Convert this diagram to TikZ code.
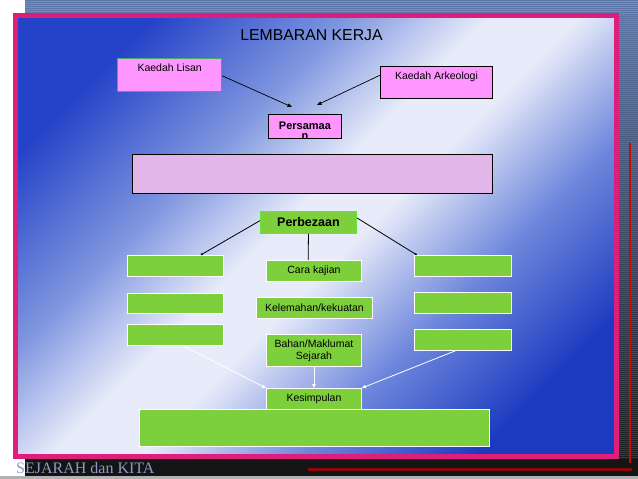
\documentclass[tikz,border=0pt]{standalone}
\usepackage{fontspec}
\setmainfont{Liberation Sans}
\newfontfamily\footserif{Liberation Serif}
\usetikzlibrary{arrows.meta,calc}
\definecolor{pinkframe}{RGB}{222,30,122}
\definecolor{boxpink}{RGB}{255,150,255}
\definecolor{lilac}{RGB}{226,182,232}
\definecolor{boxgreen}{RGB}{125,208,60}
\definecolor{perbedge}{RGB}{100,228,60}
\definecolor{lisanedge}{RGB}{70,170,110}
\definecolor{gradblue}{RGB}{36,66,200}
\definecolor{gradmid}{RGB}{125,148,222}
\definecolor{gradlight}{RGB}{232,236,250}
\definecolor{gradmidB}{RGB}{110,135,220}
\definecolor{gradblueB}{RGB}{28,58,192}
\definecolor{slate}{RGB}{92,118,168}
\definecolor{footgray}{RGB}{140,155,195}
\definecolor{darkred}{RGB}{140,8,8}
\definecolor{brightred}{RGB}{200,10,10}
\pgfdeclareverticalshading{panelshade}{100bp}{color(0bp)=(gradblueB); color(24bp)=(gradblueB); color(36bp)=(gradmidB); color(47bp)=(gradlight); color(53bp)=(gradlight); color(63bp)=(gradmid); color(76bp)=(gradblue); color(100bp)=(gradblue)}
\begin{document}
\begin{tikzpicture}[x=1pt,y=-1pt,
  normtext/.style={font=\fontsize{10.5}{12}\selectfont},
  pinkbox/.style={draw=black, fill=boxpink, line width=0.9pt, anchor=north west, inner sep=0pt},
  lilacbox/.style={draw=black, fill=lilac, line width=0.9pt, anchor=north west, inner sep=0pt},
  greenbox/.style={draw=white, fill=boxgreen, line width=0.9pt, anchor=north west, inner sep=0pt, normtext, align=center},
  blackarrow/.style={draw=black, line width=0.7pt, -{Triangle[length=4.5pt,width=3.5pt]}},
  blackline/.style={draw=black, line width=0.8pt, -{Triangle[length=2pt,width=2.5pt]}},
  whitearrow/.style={draw=white, line width=0.8pt, -{Triangle[length=4pt,width=3.5pt]}}
]
\useasboundingbox (0,0) rectangle (638,479);
% background pieces
\fill[white] (0,0) rectangle (638,479);
\fill[slate] (25,0) rectangle (638,14);
\shade[top color=slate, bottom color=black!90] (619,0) rectangle (638,476);
\foreach \yy in {1.5,3.5,...,13.5} \draw[white, opacity=0.18, line width=0.6pt] (25,\yy) -- (638,\yy);
\foreach \yy in {15.5,17.5,...,475.5} \draw[white, opacity=0.12, line width=0.5pt] (619,\yy) -- (638,\yy);
\fill[black!92] (25,459) rectangle (638,476);
\fill[black!30] (0,476) rectangle (638,479);
\draw[brightred, line width=2pt] (630,143) -- (630,463);
\draw[darkred, line width=3pt] (308,469) -- (632,469);
% main panel
\shade[shading=panelshade, shading angle=45] (15,15) rectangle (617,457);
\draw[pinkframe, line width=5pt] (15.5,15.5) rectangle (616.5,456.5);
\node[anchor=base west, inner sep=0pt, font=\footserif\fontsize{16}{16}\selectfont, text=footgray] (footer) at (16,473) {SEJARAH dan KITA};
% title
\node[font=\fontsize{15.8}{18}\selectfont, inner sep=0pt] (title) at (311.5,35) {LEMBARAN KERJA};
% top boxes
\node[pinkbox, draw=lisanedge, line width=1.3pt, minimum width=104pt, minimum height=33pt,
  label={[anchor=north, normtext, inner sep=0pt, yshift=-6pt]north:Kaedah Lisan}] (lisan) at (117,58) {};
\node[pinkbox, minimum width=112pt, minimum height=32pt,
  label={[anchor=north, normtext, inner sep=0pt, yshift=-6pt]north:Kaedah Arkeologi}] (arke) at (380,66) {};
\node[pinkbox, minimum width=73pt, minimum height=24pt,
  label={[anchor=north, inner sep=0pt, yshift=-8pt, align=center, font=\bfseries\fontsize{11}{10}\selectfont]north:Persamaa\\n}] (persa) at (268,114) {};
\node[lilacbox, minimum width=360pt, minimum height=39pt] (simbox) at (132,154) {};
% arrows to Persamaan
\coordinate (tipA) at (292,107);
\coordinate (tipB) at (317,105);
\draw[blackarrow] ($(lisan.north east)!0.52!(lisan.south east)$) -- (tipA);
\draw[blackarrow] ($(arke.north west)!0.28!(arke.south west)$) -- (tipB);
% Perbezaan
\node[greenbox, draw=perbedge, minimum width=96pt, minimum height=22pt,
  font=\bfseries\fontsize{12.5}{14}\selectfont] (perb) at (260,211) {Perbezaan};
% left boxes
\node[greenbox, minimum width=96pt, minimum height=21pt] (L1) at (127,255) {};
\node[greenbox, minimum width=96pt, minimum height=20pt] (L2) at (127,293) {};
\node[greenbox, minimum width=96pt, minimum height=21pt] (L3) at (127,324) {};
% right boxes
\node[greenbox, minimum width=97pt, minimum height=21pt] (R1) at (414,255) {};
\node[greenbox, minimum width=97pt, minimum height=21pt] (R2) at (414,292) {};
\node[greenbox, minimum width=97pt, minimum height=21pt] (R3) at (414,329) {};
% centre boxes
\node[greenbox, minimum width=95pt, minimum height=21pt] (cara) at (266,260) {Cara kajian};
\node[greenbox, minimum width=116pt, minimum height=21pt] (kele) at (256,297) {Kelemahan/kekuatan};
\node[greenbox, minimum width=95pt, minimum height=32pt] (bahan) at (266,334) {Bahan/Maklumat\\Sejarah};
\node[greenbox, minimum width=350pt, minimum height=37pt] (kesbox) at (139,409) {};
\node[greenbox, minimum width=95pt, minimum height=21pt] (kesim) at (266,388) {Kesimpulan};
\draw[white, line width=0.9pt] (kesbox.north west) -- (kesbox.north east);
% Perbezaan connectors
\draw[blackline] ($(perb.north west)!0.42!(perb.south west)$) -- ($(L1.north west)!0.76!(L1.north east)$);
\draw[blackline] ($(perb.north east)!0.3!(perb.south east)$) -- ($(R1.north west)!0.03!(R1.north east)$);
\draw[draw=black, line width=0.8pt] ($(perb.south west)!0.5!(perb.south east)$) -- ($(cara.north west)!0.44!(cara.north east)$);
% white arrows to Kesimpulan
\draw[whitearrow] ($(L3.south west)!0.58!(L3.south east)$) -- (kesim.north west);
\draw[whitearrow] ($(bahan.south west)!0.5!(bahan.south east)$) -- ($(kesim.north west)!0.5!(kesim.north east)$);
\draw[whitearrow] ($(R3.south west)!0.42!(R3.south east)$) -- (kesim.north east);
\end{tikzpicture}
\end{document}
